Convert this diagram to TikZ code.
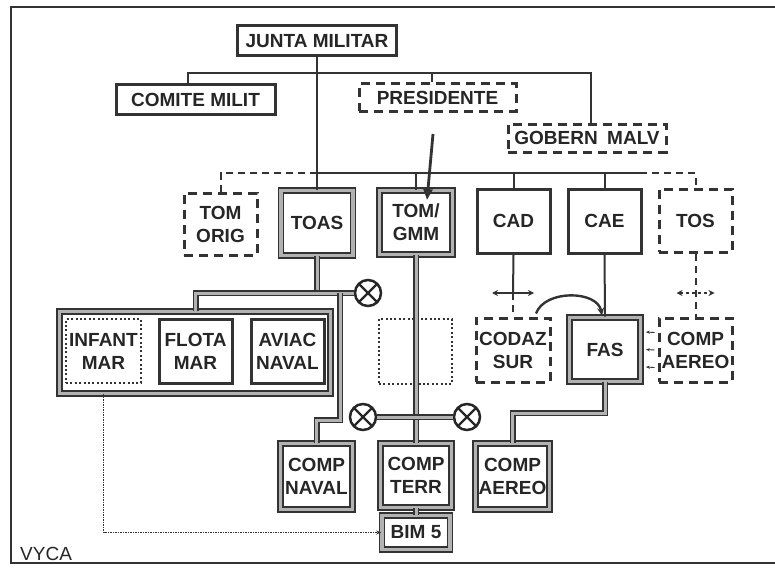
\documentclass[tikz,border=0pt]{standalone}
\usepackage{fontspec}
\setsansfont{Liberation Sans}
\usetikzlibrary{positioning,arrows.meta,calc}
\tikzset{
  >={Stealth[length=2.2mm]},
  every node/.style={font=\sffamily\bfseries\fontsize{19}{23}\selectfont,
    text=black!85,align=center,inner sep=0pt},
  cell/.style={minimum width=73pt,minimum height=64pt},
  solbox/.style={draw=black!80,line width=3pt},
  dashbox/.style={draw=black!80,line width=3pt,dash pattern=on 9pt off 6pt},
  dotbox/.style={draw=black!80,line width=2.6pt,dash pattern=on 2pt off 2.4pt},
  dblbox/.style={draw=black!80,line width=1.6pt,double=black!30,
    double distance=3.2pt},
  link/.style={draw=black!80,line width=2pt},
  dashlink/.style={link,dash pattern=on 7pt off 5pt},
  dbllink/.style={draw=black!80,line width=1.5pt,double=black!30,
    double distance=3pt},
  dotlink/.style={draw=black!80,line width=1.1pt,dash pattern=on 1.2pt off 1.3pt,
    -{Stealth[length=5pt,width=4pt]}},
  hiarrow/.style={draw=black!80,line width=2.8pt,
    -{Triangle[length=11pt,width=9pt]}},
  swaparr/.style={link,{Stealth[length=6pt,width=6pt]}-{Stealth[length=6pt,width=6pt]}},
  dswaparr/.style={swaparr,dash pattern=on 3pt off 3pt},
  curvarr/.style={link,line width=2.4pt,-{Stealth[length=8pt,width=7pt]}},
  smallarr/.style={draw=black!80,line width=0.9pt,-{Stealth[length=4pt,width=3pt]}},
  xcirc/.style={circle,draw=black!85,line width=2.5pt,minimum size=26pt,
    path picture={\draw[black!85,line width=2.4pt]
      (path picture bounding box.north west) -- (path picture bounding box.south east)
      (path picture bounding box.north east) -- (path picture bounding box.south west);}},
}

\begin{document}
\begin{tikzpicture}[x=1pt,y=-1pt]
  \useasboundingbox (0,0) rectangle (775,567);
  % frame
  \draw[black!80,line width=1.6pt] (775,7) -- (11,7) -- (11,563) -- (775,563);

  % top level
  \node[solbox,minimum width=159pt,minimum height=30pt] (junta) at (317,41) {JUNTA MILITAR};
  \node[solbox,minimum width=159pt,minimum height=29pt] (comite) at (195.5,99.5) {COMITE MILIT};
  \node[dashbox,minimum width=157pt,minimum height=27pt] (pres) at (437.5,97.5) {PRESIDENTE};
  \node[dashbox,minimum width=158pt,minimum height=28pt] (gobern) at (587,138) {GOBERN\enspace MALV};

  % theatres and commands
  \node[dashbox,cell,minimum width=73pt,minimum height=62pt] (tomorig) at (220.5,224) {TOM\\ORIG};
  \node[dblbox,cell,minimum width=72pt,minimum height=65pt] (toas) at (317,223) {TOAS};
  \node[dblbox,cell] (tomgmm) at (416,222.5) {TOM/\\GMM};
  \node[solbox,cell] (cad) at (513.5,221) {CAD};
  \node[solbox,cell] (cae) at (604.5,221) {CAE};
  \node[dashbox,cell,minimum height=63pt] (tos) at (695.5,220.5) {TOS};

  % forces
  \node[dblbox,minimum width=271pt,minimum height=82pt] (navgrp) at (195,352.5) {};
  \node[dotbox,cell,minimum width=75pt] (infant) at (103.5,351) {INFANT\\MAR};
  \node[solbox,cell] (flota) at (195.5,351) {FLOTA\\MAR};
  \node[solbox,cell] (aviac) at (287.5,351) {AVIAC\\NAVAL};
  \node[dotbox,cell,minimum height=65pt] (blank) at (415.5,351.5) {};
  \node[dashbox,cell,minimum width=74pt] (codaz) at (513,350) {CODAZ\\SUR};
  \node[dblbox,cell,minimum width=71pt] (fas) at (605,349.5) {FAS};
  \node[dashbox,cell] (compae2) at (695.5,350) {COMP\\AEREO};

  % components
  \node[dblbox,cell,minimum width=72pt,minimum height=66pt] (compnav) at (316.5,476.5) {COMP\\NAVAL};
  \node[dblbox,cell,minimum width=71pt] (compterr) at (416,475.5) {COMP\\TERR};
  \node[dblbox,cell,minimum width=74pt,minimum height=66pt] (compaer) at (512.5,476.5) {COMP\\AEREO};
  \node[dblbox,minimum width=68pt,minimum height=34pt] (bim) at (416,532.5) {BIM 5};

  \node[xcirc] (x1) at (368,293) {};
  \node[xcirc] (x2) at (363,417) {};
  \node[xcirc] (x3) at (467,417) {};

  \node[font=\sffamily\fontsize{19}{23}\selectfont,anchor=base west] (vyca) at (20,560) {VYCA};

  % junta links
  \coordinate (cl) at (188,73);
  \coordinate (cr) at (591,73);
  \coordinate (pt) at (432,73);
  \draw[link] (cl |- comite.north) -- (cl) -- (cr) -- (cr |- gobern.north);
  \draw[link] (pt) -- (pt |- pres.north);
  \draw[link] (junta.south) -- (toas.north);

  \coordinate (lvl) at (317,173);
  \coordinate (lve) at (640,173);
  \draw[dashlink] (tomorig.north) |- (lvl);
  \draw[link] (lvl) -- (lve);
  \draw[dashlink] (lve) -| (tos.north);
  \draw[link] (tomgmm.north |- lvl) -- (tomgmm.north);
  \draw[link] (cad.north |- lvl) -- (cad.north);
  \draw[link] (cae.north |- lvl) -- (cae.north);

  \coordinate (pa) at (433,134);
  \coordinate (pb) at (427,200);
  \draw[hiarrow] (pa) -- (pb);

  % naval chain
  \coordinate (jn) at (340,293);
  \coordinate (bendn) at (340,420);
  \draw[dbllink] (toas.south) -- (toas.south |- x1);
  \draw[dbllink] (navgrp.north -| flota) |- (x1.west);
  \draw[dbllink] (jn) -- (bendn) -| (compnav.north);
  \draw[dbllink] (tomgmm.south) -- (compterr.north);
  \draw[dbllink] (compterr.south) -- (bim.north);
  \draw[dbllink] (x2) -- (x3);
  \draw[dotlink] (navgrp.south -| infant) |- (bim.west);

  % air chain
  \coordinate (cadx) at (513,293);
  \coordinate (benda) at (512.5,413);
  \draw[link] (cad.south) -- (cadx);
  \draw[dashlink] (cadx) -- (codaz.north);
  \draw[swaparr] (cadx) ++(-21,0) -- ++(42,0);
  \draw[link] (cae.south) -- (fas.north);
  \draw[curvarr] ($(codaz.north)+(23,-3)$) to[out=70,in=100] ($(fas.north)+(-3,-1)$);
  \draw[dbllink] (fas.south) |- (benda) -- (compaer.north);
  \draw[dashlink] (tos.south) -- (compae2.north);
  \draw[dswaparr] (tos.south |- cadx) ++(-19,0) -- ++(38,0);
  \foreach \dy in {-17.5,0,17.5}
    \draw[smallarr] ($(compae2.west)+(-3,\dy)$) -- ($(fas.east)+(4.5,\dy)$);
\end{tikzpicture}
\end{document}
